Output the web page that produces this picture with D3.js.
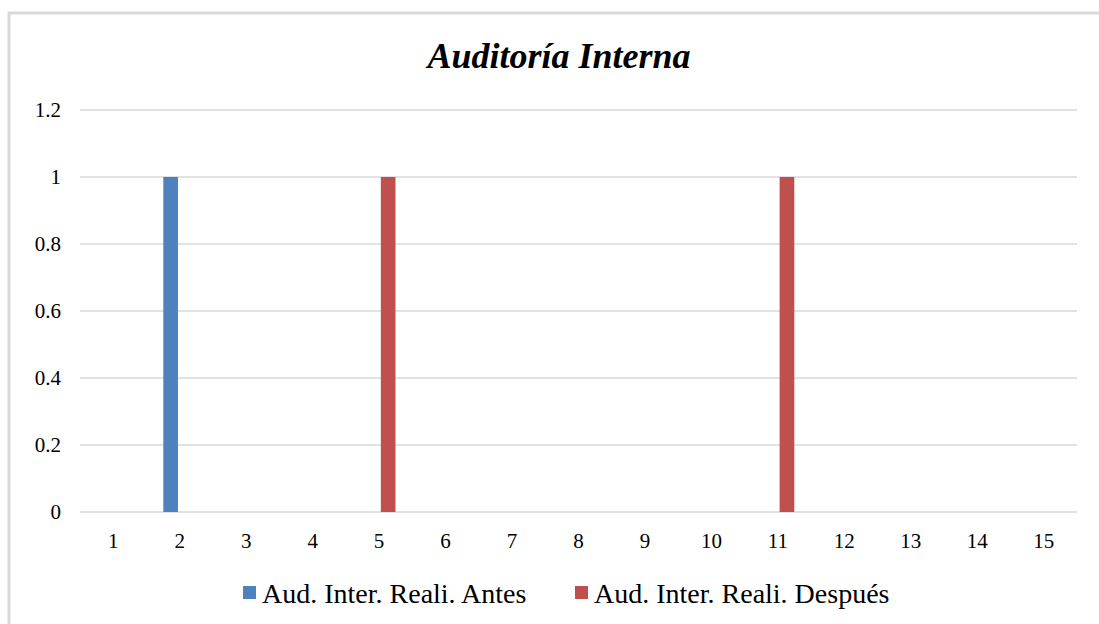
<!DOCTYPE html>
<meta charset="utf-8">
<style>
body { margin: 0; background: #fff; }
svg text { font-family: "Liberation Serif", "Times New Roman", serif; fill: #000; }
.grid line { stroke: #d9d9d9; stroke-width: 1.3px; }
</style>
<svg width="1099" height="624"></svg>
<script src="https://d3js.org/d3.v7.min.js"></script>
<script>

var categories = ["1","2","3","4","5","6","7","8","9","10","11","12","13","14","15"];
var seriesNames = ["Aud. Inter. Reali. Antes", "Aud. Inter. Reali. Después"];
var antes   = [0,1,0,0,0,0,0,0,0,0,0,0,0,0,0];
var despues = [0,0,0,0,1,0,0,0,0,0,1,0,0,0,0];
var yTicks = [0, 0.2, 0.4, 0.6, 0.8, 1, 1.2];
var colors = ["#4f81bd", "#c0504d"];

var svg = d3.select("svg");

// chart frame (only top and left edge visible in the crop)
svg.append("rect")
    .attr("x", 9).attr("y", 13)
    .attr("width", 1300).attr("height", 800)
    .attr("fill", "none")
    .attr("stroke", "#d9d9d9")
    .attr("stroke-width", 3);

var plotLeft = 80, plotRight = 1077, plotTop = 110, plotBottom = 512;

var x0 = d3.scaleBand().domain(categories).range([plotLeft, plotRight]).padding(0);
var x1 = d3.scaleBand().domain([0, 1]).range([-16.4, 16.4]).paddingInner(0.19);
var y = d3.scaleLinear().domain([0, 1.2]).range([plotBottom, plotTop]);

var grid = svg.append("g").attr("class", "grid");
grid.selectAll("line")
  .data(yTicks)
  .enter().append("line")
    .attr("x1", plotLeft).attr("x2", plotRight)
    .attr("y1", function(d) { return y(d); })
    .attr("y2", function(d) { return y(d); });

svg.append("g").selectAll("text")
  .data(yTicks)
  .enter().append("text")
    .attr("x", 61)
    .attr("y", function(d) { return y(d); })
    .attr("dy", "0.35em")
    .attr("text-anchor", "end")
    .style("font-size", "21px")
    .text(function(d) { return d3.format("")(d); });

svg.append("g").selectAll("text")
  .data(categories)
  .enter().append("text")
    .attr("x", function(d) { return x0(d) + x0.bandwidth() / 2; })
    .attr("y", 541)
    .attr("dy", "0.35em")
    .attr("text-anchor", "middle")
    .style("font-size", "21px")
    .text(function(d) { return d; });

var rows = categories.map(function(c, i) { return { cat: c, values: [antes[i], despues[i]] }; });

svg.append("g").selectAll("g")
  .data(rows)
  .enter().append("g")
    .attr("transform", function(d) { return "translate(" + (x0(d.cat) + x0.bandwidth() / 2) + ",0)"; })
  .selectAll("rect")
  .data(function(d) { return d.values.map(function(v, k) { return { k: k, v: v }; }); })
  .enter().append("rect")
    .attr("x", function(d) { return x1(d.k); })
    .attr("width", x1.bandwidth())
    .attr("y", function(d) { return y(d.v); })
    .attr("height", function(d) { return plotBottom - y(d.v); })
    .attr("fill", function(d) { return colors[d.k]; });

svg.append("text")
    .attr("x", 559)
    .attr("y", 55)
    .attr("dy", "0.35em")
    .attr("text-anchor", "middle")
    .style("font-size", "36px")
    .style("font-weight", "bold")
    .style("font-style", "italic")
    .text("Auditoría Interna");

// legend
var legendX = [243, 575];
var legend = svg.append("g").selectAll("g")
  .data(seriesNames)
  .enter().append("g")
    .attr("transform", function(d, i) { return "translate(" + legendX[i] + ",593)"; });
legend.append("rect")
    .attr("x", 0).attr("y", -7)
    .attr("width", 13).attr("height", 13)
    .attr("fill", function(d, i) { return colors[i]; });
legend.append("text")
    .attr("x", 19)
    .attr("dy", "0.35em")
    .style("font-size", "28px")
    .text(function(d) { return d; });

</script>
